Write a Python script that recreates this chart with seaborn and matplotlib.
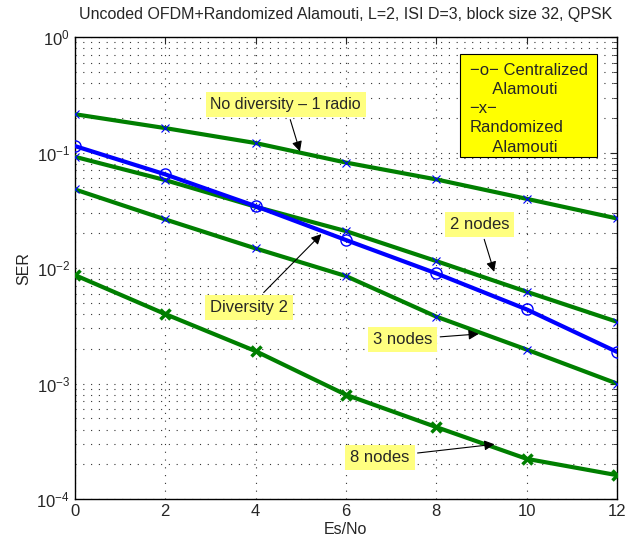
import matplotlib
matplotlib.use("Agg")
import matplotlib.pyplot as plt
import pandas as pd
import seaborn as sns
from matplotlib.patches import Rectangle

snr = [0, 2, 4, 6, 8, 10, 12]
no_div = [0.215, 0.163, 0.121, 0.082, 0.0586, 0.0398, 0.0269]
centralized = [0.114, 0.0648, 0.0344, 0.0175, 0.0090, 0.00439, 0.00188]
two_nodes = [0.092, 0.0578, 0.034, 0.0209, 0.0115, 0.00624, 0.00343]
three_nodes = [0.048, 0.0264, 0.0148, 0.00853, 0.0038, 0.00197, 0.0010]
eight_nodes = [0.0087, 0.0040, 0.00191, 0.00080, 0.00042, 0.000223, 0.000161]

sns.set_style("white")
plt.rcParams["font.family"] = ["Liberation Sans", "DejaVu Sans"]

fig = plt.figure(figsize=(6.4, 5.46), dpi=100)
ax = fig.add_axes([0.117, 0.086, 0.847, 0.846])

green = "#007f00"
for ys in [no_div, two_nodes, three_nodes]:
    df = pd.DataFrame({"snr": snr, "ser": ys})
    sns.lineplot(data=df, x="snr", y="ser", ax=ax, color=green, lw=3,
                 marker="x", markersize=6, markeredgecolor="blue",
                 markeredgewidth=0.8, zorder=3)

df = pd.DataFrame({"snr": snr, "ser": centralized})
sns.lineplot(data=df, x="snr", y="ser", ax=ax, color="blue", lw=3,
             marker="o", markersize=8, markerfacecolor="none",
             markeredgecolor="blue", markeredgewidth=1, zorder=4)

df = pd.DataFrame({"snr": snr, "ser": eight_nodes})
sns.lineplot(data=df, x="snr", y="ser", ax=ax, color=green, lw=3,
             marker="x", markersize=7, markeredgecolor=green,
             markeredgewidth=2.5, zorder=3)

ax.set_yscale("log")
ax.set_xlim(0, 12)
ax.set_ylim(1e-4, 1)
ax.set_xticks(snr)
ax.set_yticks([1e-4, 1e-3, 1e-2, 1e-1, 1])
ax.tick_params(which="both", direction="in", top=True, right=True, labelsize=12)
ax.tick_params(which="major", length=5)
ax.tick_params(which="minor", length=3)
dots = (0, (1, 6))
ax.xaxis.grid(True, which="major", ls=dots, color="#333333", lw=0.8)
ax.yaxis.grid(True, which="both", ls=dots, color="#333333", lw=0.8)
for s in ax.spines.values():
    s.set_color("black")
    s.set_linewidth(1)

ax.set_xlabel("Es/No", fontsize=11.5, labelpad=2)
ax.set_ylabel("SER", fontsize=11.5)
ax.set_title("Uncoded OFDM+Randomized Alamouti, L=2, ISI D=3, block size 32, QPSK",
             fontsize=11.5, pad=13)

box = dict(boxstyle="square,pad=0.3", fc="#ffff80", ec="none")
arrow = dict(arrowstyle="-|>", color="black", lw=0.8, mutation_scale=15)
ax.annotate("No diversity \u2013 1 radio", xy=(5.0, 0.097), xytext=(3.0, 0.26),
            fontsize=11.5, bbox=box, arrowprops=arrow, va="center", ha="left")
ax.annotate("2 nodes", xy=(9.3, 0.0088), xytext=(8.3, 0.024),
            fontsize=12, bbox=box, arrowprops=arrow, va="center", ha="left")
ax.annotate("Diversity 2", xy=(5.5, 0.0205), xytext=(3.0, 0.0046),
            fontsize=12, bbox=box, arrowprops=arrow, va="center", ha="left")
ax.annotate("3 nodes", xy=(9.0, 0.0027), xytext=(6.6, 0.0024),
            fontsize=12, bbox=box, arrowprops=arrow, va="center", ha="left")
ax.annotate("8 nodes", xy=(9.35, 0.00030), xytext=(6.1, 0.00023),
            fontsize=12, bbox=box, arrowprops=arrow, va="center", ha="left")

ax.add_patch(Rectangle((0.710, 0.740), 0.253, 0.223, transform=ax.transAxes,
                       fc="yellow", ec="black", lw=0.8, zorder=6))
ax.text(0.728, 0.945, "\u2212o\u2212 Centralized\n     Alamouti\n\u2212x\u2212\nRandomized\n     Alamouti",
        transform=ax.transAxes, fontsize=12, va="top", ha="left",
        linespacing=1.36, zorder=7)

fig.savefig("out.png", dpi=100)
